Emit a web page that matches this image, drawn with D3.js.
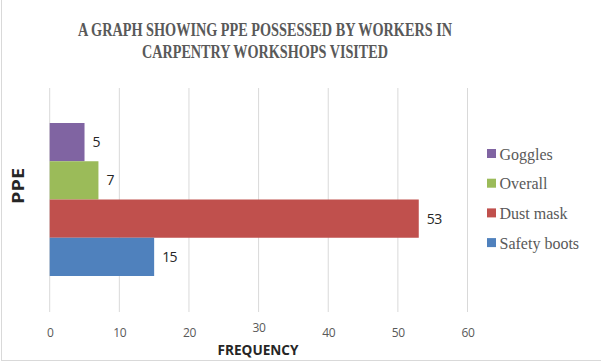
<!DOCTYPE html>
<html>
<head>
<meta charset="utf-8">
<script src="https://cdn.jsdelivr.net/npm/d3@7"></script>
<style>
  html, body { margin: 0; padding: 0; background: #fff; }
  svg { display: block; }
</style>
</head>
<body>
<div id="chart"></div>
<script>
// PPE possessed by workers — horizontal clustered bar, one category, four series

const seriesNames  = ['Goggles', 'Overall', 'Dust mask', 'Safety boots'];
const seriesValues = [5, 7, 53, 15];
const seriesColors = ['#8064A2', '#9BBB59', '#C0504D', '#4F81BD'];
const xTickValues  = [0, 10, 20, 30, 40, 50, 60];
const titleLines   = ['A GRAPH SHOWING PPE  POSSESSED BY WORKERS IN', 'CARPENTRY WORKSHOPS VISITED'];

const W = 601, H = 363;
const plot = { left: 49.7, right: 467.5, top: 88, bottom: 312 };
const serif = '"Liberation Serif", "Times New Roman", "DejaVu Serif", serif';
const sans  = '"Open Sans", "Noto Sans", sans-serif';

const svg = d3.select('#chart').append('svg')
  .attr('width', W)
  .attr('height', H);

// chart frame (light border, right edge falls outside the view)
svg.append('rect')
  .attr('x', 1.5).attr('y', -1)
  .attr('width', W + 10).attr('height', 361.5)
  .attr('fill', 'none')
  .attr('stroke', '#d9d9d9');

// title — squeezed to the reference's narrow bold serif
const titleWidths = [374, 246];
svg.append('g')
  .selectAll('text')
  .data(titleLines)
  .join('text')
  .attr('x', 265)
  .attr('y', (d, i) => 35.5 + i * 22)
  .attr('text-anchor', 'middle')
  .attr('font-family', serif)
  .attr('font-weight', 'bold')
  .attr('font-size', 19)
  .attr('textLength', (d, i) => titleWidths[i])
  .attr('lengthAdjust', 'spacingAndGlyphs')
  .attr('fill', '#595959')
  .text(d => d);

// ─── Scales ───────────────────────────────────────────────────────────────

const x = d3.scaleLinear()
  .domain([0, 60])
  .range([plot.left, plot.right]);

const y = d3.scaleBand()
  .domain(seriesNames)
  .range([123, 276]);

// grid
svg.append('g')
  .selectAll('line')
  .data(xTickValues)
  .join('line')
  .attr('x1', d => x(d)).attr('x2', d => x(d))
  .attr('y1', plot.top).attr('y2', plot.bottom)
  .attr('stroke', '#d9d9d9')
  .attr('stroke-width', 1);

// x tick labels
const xAxis = d3.axisBottom(x).tickValues(xTickValues).tickSize(0).tickPadding(0);
const gx = svg.append('g')
  .attr('transform', `translate(0,${plot.bottom})`)
  .call(xAxis);
gx.select('.domain').remove();
gx.selectAll('text')
  .attr('y', 25)
  .attr('dy', 0)
  .attr('font-family', sans)
  .attr('font-size', 12)
  .attr('letter-spacing', -0.3)
  .attr('fill', '#595959');
gx.selectAll('.tick').filter(d => d === 30).select('text').attr('y', 20);

// bars
svg.append('g')
  .selectAll('rect')
  .data(seriesNames)
  .join('rect')
  .attr('x', x(0))
  .attr('y', d => y(d))
  .attr('width', (d, i) => x(seriesValues[i]) - x(0))
  .attr('height', y.bandwidth())
  .attr('fill', (d, i) => seriesColors[i]);

// data labels
svg.append('g')
  .selectAll('text')
  .data(seriesNames)
  .join('text')
  .attr('x', (d, i) => x(seriesValues[i]) + 8)
  .attr('y', d => y(d) + y.bandwidth() / 2 + 5)
  .attr('font-family', sans)
  .attr('font-size', 14)
  .attr('letter-spacing', -0.6)
  .attr('fill', '#262626')
  .text((d, i) => seriesValues[i]);

// axis titles
svg.append('text')
  .attr('x', 258)
  .attr('y', 355)
  .attr('text-anchor', 'middle')
  .attr('font-family', sans)
  .attr('font-weight', 'bold')
  .attr('font-size', 15)
  .attr('textLength', 81)
  .attr('lengthAdjust', 'spacingAndGlyphs')
  .attr('fill', '#262626')
  .text('FREQUENCY');

svg.append('text')
  .attr('transform', 'translate(24,186) rotate(-90)')
  .attr('text-anchor', 'middle')
  .attr('font-family', sans)
  .attr('font-weight', 'bold')
  .attr('font-size', 15.5)
  .attr('textLength', 36)
  .attr('lengthAdjust', 'spacingAndGlyphs')
  .attr('fill', '#262626')
  .text('PPE');

// legend
const legend = svg.append('g')
  .selectAll('g')
  .data(seriesNames)
  .join('g')
  .attr('transform', (d, i) => `translate(487,${154 + i * 29.7})`);

legend.append('rect')
  .attr('x', 0).attr('y', -5)
  .attr('width', 9).attr('height', 9)
  .attr('fill', (d, i) => seriesColors[i]);

legend.append('text')
  .attr('x', 12.5)
  .attr('y', 5.5)
  .attr('font-family', serif)
  .attr('font-size', 16)
  .attr('fill', '#595959')
  .text(d => d);
</script>
</body>
</html>
